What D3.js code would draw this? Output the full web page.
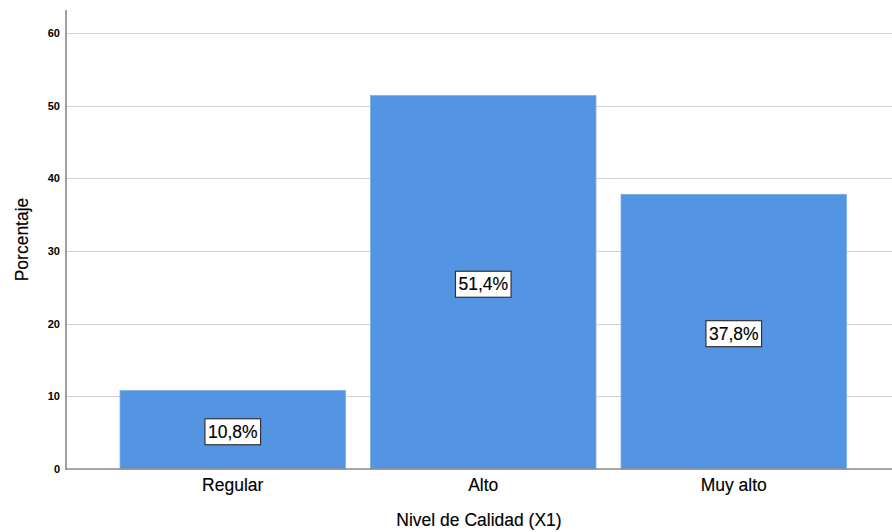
<!DOCTYPE html>
<html>
<head>
<meta charset="utf-8">
<script src="https://cdn.jsdelivr.net/npm/d3@7"></script>
<style>
  html, body { margin: 0; padding: 0; background: #fff; }
  svg { display: block; font-family: "Liberation Sans", Arial, sans-serif; }
</style>
</head>
<body>
<svg id="chart" width="892" height="532"></svg>
<script>
const categories = ["Regular", "Alto", "Muy alto"];
const values = [10.8, 51.4, 37.8];
const valueLabels = ["10,8%", "51,4%", "37,8%"];
const yTicks = [0, 10, 20, 30, 40, 50, 60];
const xTitle = "Nivel de Calidad (X1)";
const yTitle = "Porcentaje";

const svg = d3.select("#chart");
const plotLeft = 66, plotRight = 892, plotTop = 10, plotBottom = 469;
const fs = 17.5;

const y = d3.scaleLinear().domain([0, 63.17]).range([plotBottom, plotTop]);
const x = d3.scaleBand().domain(categories)
  .range([107.5, 859]).paddingInner(0.1).paddingOuter(0.05);

// gridlines
svg.append("g").selectAll("line").data(yTicks.filter(d => d > 0)).join("line")
  .attr("x1", plotLeft).attr("x2", plotRight)
  .attr("y1", d => Math.round(y(d)) + 0.5).attr("y2", d => Math.round(y(d)) + 0.5)
  .attr("stroke", "#d2d2d2").attr("stroke-width", 1.2);

// bars
svg.append("g").selectAll("rect").data(values).join("rect")
  .attr("x", (d, i) => x(categories[i]))
  .attr("y", d => y(d))
  .attr("width", x.bandwidth())
  .attr("height", d => plotBottom - y(d))
  .attr("fill", "#5495e3")
  .attr("stroke", "#7aaceb").attr("stroke-width", 0.8);

// y axis
const yAxis = d3.axisLeft(y).tickValues(yTicks).tickSize(0).tickPadding(6);
const gy = svg.append("g").attr("transform", `translate(${plotLeft},0)`).call(yAxis);
gy.select(".domain").remove();
gy.selectAll("text").attr("font-size", 11).attr("font-weight", "bold").attr("fill", "#000")
  .attr("font-family", "'Liberation Sans', Arial, sans-serif");
svg.append("line").attr("x1", plotLeft).attr("x2", plotLeft)
  .attr("y1", plotTop).attr("y2", plotBottom + 1)
  .attr("stroke", "#8a8a8a").attr("stroke-width", 1.6);

// x axis
const xAxis = d3.axisBottom(x).tickSize(0).tickPadding(10);
const gx = svg.append("g").attr("transform", `translate(0,${plotBottom})`).call(xAxis);
gx.select(".domain").remove();
gx.selectAll("text").attr("font-size", fs).attr("fill", "#000")
  .attr("stroke", "#000").attr("stroke-width", 0.15)
  .attr("font-family", "'Liberation Sans', Arial, sans-serif");
svg.append("line").attr("x1", plotLeft).attr("x2", plotRight)
  .attr("y1", plotBottom).attr("y2", plotBottom)
  .attr("stroke", "#8a8a8a").attr("stroke-width", 1.6);

// value labels
const lab = svg.append("g").selectAll("g").data(values).join("g")
  .attr("transform", (d, i) => `translate(${x(categories[i]) + x.bandwidth() / 2},${(y(d) + plotBottom) / 2 + 2})`);
lab.append("text")
  .attr("text-anchor", "middle").attr("dy", "0.35em")
  .attr("font-size", fs).attr("fill", "#000")
  .attr("stroke", "#000").attr("stroke-width", 0.15)
  .text((d, i) => valueLabels[i]);
lab.each(function() {
  const g = d3.select(this);
  const bb = g.select("text").node().getBBox();
  g.insert("rect", "text")
    .attr("x", bb.x - 3).attr("y", -13).attr("width", bb.width + 6).attr("height", 26)
    .attr("fill", "#fff").attr("stroke", "#333").attr("stroke-width", 1.2);
});

// titles
svg.append("text").attr("x", (plotLeft + plotRight) / 2).attr("y", 526)
  .attr("text-anchor", "middle").attr("font-size", fs).attr("fill", "#000")
  .attr("stroke", "#000").attr("stroke-width", 0.15).text(xTitle);
svg.append("text").attr("transform", `translate(28,${(plotTop + plotBottom) / 2}) rotate(-90)`)
  .attr("text-anchor", "middle").attr("font-size", fs).attr("fill", "#000")
  .attr("stroke", "#000").attr("stroke-width", 0.15).text(yTitle);
</script>
</body>
</html>
